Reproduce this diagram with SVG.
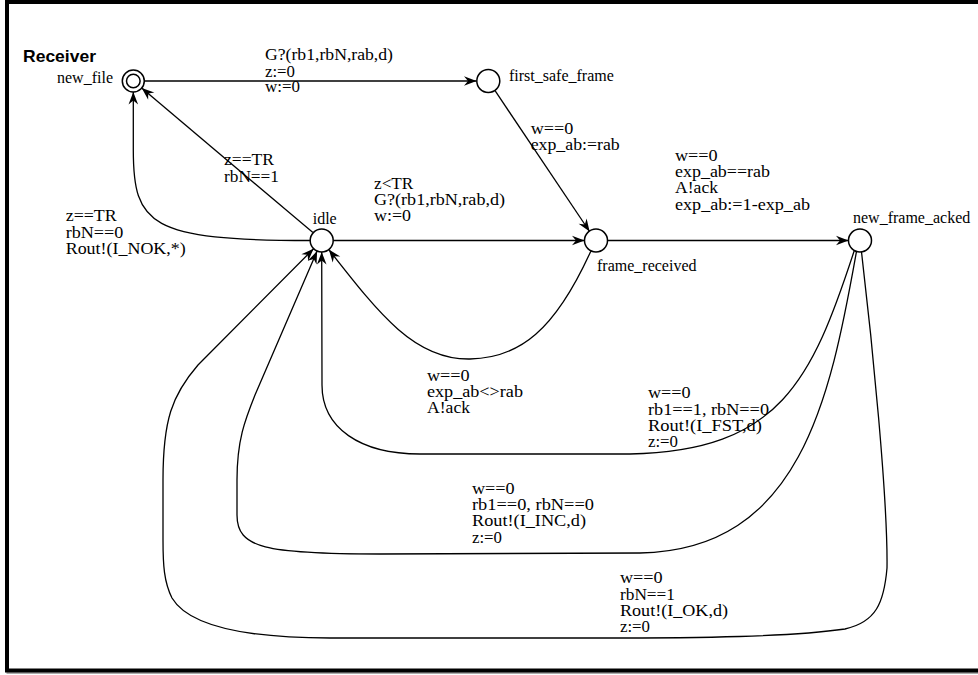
<svg xmlns="http://www.w3.org/2000/svg" width="978" height="675" viewBox="0 0 978 675">
<style>
.t{font-family:"Liberation Serif","Times New Roman",serif;font-size:16px;fill:#000}
.e{fill:none;stroke:#000;stroke-width:1.3;marker-end:url(#arr)}
.loc{fill:#fff;stroke:#000;stroke-width:1.5}
</style>
<defs>
<marker id="arr" viewBox="-14 -6 15 12" refX="0" refY="0" markerWidth="15" markerHeight="12" markerUnits="userSpaceOnUse" orient="auto">
<path d="M0,0 L-12.5,-4.8 L-8.5,0 L-12.5,4.8 Z" fill="#000"/>
</marker>
</defs>
<rect x="0" y="0" width="978" height="675" fill="#fff"/>
<rect x="8.5" y="3.5" width="980" height="668.5" fill="none" stroke="#aaa" stroke-width="4"/>
<rect x="7" y="2" width="980" height="668.5" fill="#fff" stroke="#000" stroke-width="4"/>
<text x="23" y="62" font-family="Liberation Sans, Arial, sans-serif" font-weight="bold" font-size="16.5" textLength="73" lengthAdjust="spacingAndGlyphs">Receiver</text>

<g id="connectors">
<path class="e" d="M144.5,81 L476.5,81"/>
<path class="e" d="M312.9,232.6 L141.7,88.1"/>
<path class="e" d="M310.2,240.5 C150,240.5 133.3,225 133.3,150 L133.3,92"/>
<path class="e" d="M494.7,90.2 L589.6,231.5"/>
<path class="e" d="M333.2,240.5 L584.5,240.5"/>
<path class="e" d="M607.5,240.5 L848.5,240.5"/>
<path class="e" d="M590.8,251.2 C555,330 520,358 470,359 C415,360 380,315 328.8,249.6"/>
<path class="e" d="M854.3,250.5 C812,380 780,451 630,454 L420,454 C360,454 322,428 322,385 L321.7,252"/>
<path class="e" d="M856.5,251.4 C830,400 800,550 640,553 L380,554 C265,554 237,548 237,515 L237,480 C237,440 245,420 255,395 L317.1,251.1"/>
<path class="e" d="M861.5,252 C872,340 888,500 887,568 C884,603 876,622 845,629 C790,637 700,638 600,638 L330,638 C240,638 188,625 172,598 C164,582 163,565 163,540 L163,480 C163,420 172,395 198,365 L313.6,248.7"/>
</g>

<g id="labels">
<text class="t" x="265" y="60" textLength="128" lengthAdjust="spacingAndGlyphs">G?(rb1,rbN,rab,d)</text>
<text class="t" x="265" y="76.5" textLength="30" lengthAdjust="spacingAndGlyphs">z:=0</text>
<text class="t" x="265" y="92" textLength="35" lengthAdjust="spacingAndGlyphs">w:=0</text>

<text class="t" x="530.7" y="134" textLength="42.7" lengthAdjust="spacingAndGlyphs">w==0</text>
<text class="t" x="530.7" y="149.5" textLength="89" lengthAdjust="spacingAndGlyphs">exp_ab:=rab</text>

<text class="t" x="675" y="160.7" textLength="42.7" lengthAdjust="spacingAndGlyphs">w==0</text>
<text class="t" x="675" y="177" textLength="95" lengthAdjust="spacingAndGlyphs">exp_ab==rab</text>
<text class="t" x="675" y="193.3" textLength="43" lengthAdjust="spacingAndGlyphs">A!ack</text>
<text class="t" x="675" y="210" textLength="135" lengthAdjust="spacingAndGlyphs">exp_ab:=1-exp_ab</text>

<text class="t" x="374" y="188.5" textLength="39.3" lengthAdjust="spacingAndGlyphs">z&lt;TR</text>
<text class="t" x="374" y="205" textLength="131" lengthAdjust="spacingAndGlyphs">G?(rb1,rbN,rab,d)</text>
<text class="t" x="374" y="221" textLength="37" lengthAdjust="spacingAndGlyphs">w:=0</text>

<text class="t" x="224" y="165" textLength="50" lengthAdjust="spacingAndGlyphs">z==TR</text>
<text class="t" x="224" y="181.5" textLength="55" lengthAdjust="spacingAndGlyphs">rbN==1</text>

<text class="t" x="65.7" y="221" textLength="51" lengthAdjust="spacingAndGlyphs">z==TR</text>
<text class="t" x="65.7" y="237.7" textLength="57.7" lengthAdjust="spacingAndGlyphs">rbN==0</text>
<text class="t" x="65.7" y="254" textLength="120" lengthAdjust="spacingAndGlyphs">Rout!(I_NOK,*)</text>

<text class="t" x="427" y="381" textLength="42.7" lengthAdjust="spacingAndGlyphs">w==0</text>
<text class="t" x="427" y="397" textLength="96" lengthAdjust="spacingAndGlyphs">exp_ab&lt;&gt;rab</text>
<text class="t" x="427" y="413" textLength="43" lengthAdjust="spacingAndGlyphs">A!ack</text>

<text class="t" x="648" y="398" textLength="42.7" lengthAdjust="spacingAndGlyphs">w==0</text>
<text class="t" x="648" y="414.5" textLength="121" lengthAdjust="spacingAndGlyphs">rb1==1, rbN==0</text>
<text class="t" x="648" y="430.5" textLength="114" lengthAdjust="spacingAndGlyphs">Rout!(I_FST,d)</text>
<text class="t" x="648" y="446.5" textLength="30" lengthAdjust="spacingAndGlyphs">z:=0</text>

<text class="t" x="472" y="493.5" textLength="42.7" lengthAdjust="spacingAndGlyphs">w==0</text>
<text class="t" x="472" y="510" textLength="122" lengthAdjust="spacingAndGlyphs">rb1==0, rbN==0</text>
<text class="t" x="472" y="526" textLength="114" lengthAdjust="spacingAndGlyphs">Rout!(I_INC,d)</text>
<text class="t" x="472" y="543" textLength="30" lengthAdjust="spacingAndGlyphs">z:=0</text>

<text class="t" x="620" y="583" textLength="42.7" lengthAdjust="spacingAndGlyphs">w==0</text>
<text class="t" x="620" y="599.5" textLength="55" lengthAdjust="spacingAndGlyphs">rbN==1</text>
<text class="t" x="620" y="616" textLength="108" lengthAdjust="spacingAndGlyphs">Rout!(I_OK,d)</text>
<text class="t" x="620" y="632" textLength="30" lengthAdjust="spacingAndGlyphs">z:=0</text>
</g>

<g id="new_file">
<circle class="loc" cx="133.3" cy="81" r="11"/>
<circle class="loc" cx="133.3" cy="81" r="6.8"/>
<text class="t" x="57" y="83">new_file</text>
</g>
<g id="first_safe_frame">
<circle class="loc" cx="488.3" cy="81" r="11.5"/>
<text class="t" x="509" y="81">first_safe_frame</text>
</g>
<g id="idle">
<circle class="loc" cx="321.7" cy="240.5" r="11.5"/>
<text class="t" x="312.7" y="224">idle</text>
</g>
<g id="frame_received">
<circle class="loc" cx="596" cy="240.5" r="11.5"/>
<text class="t" x="597" y="270.5">frame_received</text>
</g>
<g id="new_frame_acked">
<circle class="loc" cx="860" cy="240.5" r="11.5"/>
<text class="t" x="853" y="223">new_frame_acked</text>
</g>
</svg>
